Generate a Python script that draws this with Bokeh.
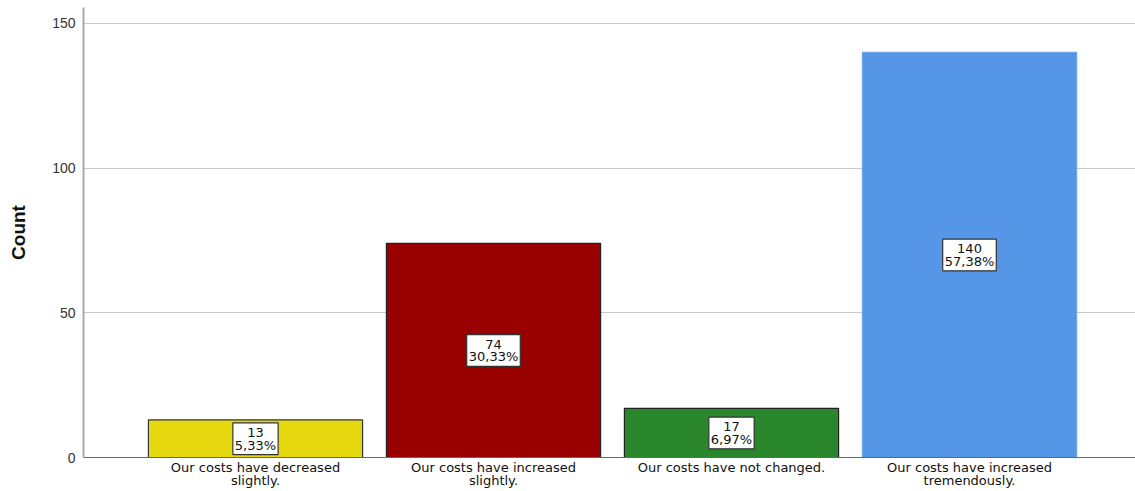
from bokeh.plotting import figure
from bokeh.models import ColumnDataSource, Range1d, FixedTicker
from bokeh.core.properties import value
from bokeh.embed import file_html
from bokeh.resources import INLINE

categories = ["Our costs have decreased\nslightly.", "Our costs have increased\nslightly.",
              "Our costs have not changed.", "Our costs have increased\ntremendously."]
counts = [13, 74, 17, 140]
percents = ["5,33%", "30,33%", "6,97%", "57,38%"]
colors = ["#E5D80F", "#990000", "#2A862A", "#5597E6"]
outlines = ["#333333", "#222222", "#222222", "#6FA6EA"]
y_ticks = [0, 50, 100, 150]

xs = list(range(len(categories)))
src = ColumnDataSource(dict(
    x=xs, top=counts, color=colors, line=outlines,
    mid=[c / 2 for c in counts],
    label=[f"{c}\n{p}" for c, p in zip(counts, percents)],
))

p = figure(width=1135, height=491, output_backend="svg", toolbar_location=None,
           x_range=Range1d(-0.7227, 3.6975), y_range=Range1d(0, 155.5),
           min_border_left=83, min_border_right=0, min_border_top=7, min_border_bottom=33)
p.outline_line_color = None
p.background_fill_color = "white"

p.vbar(x="x", top="top", width=0.9, bottom=0, fill_color="color", line_color="line",
       line_width=1.2, source=src)

p.text(x="x", y="mid", text="label", source=src, text_align="center", text_baseline="middle",
       text_font=value("DejaVu Sans"), text_font_size="13px", text_color="#111111",
       text_line_height=0.85,
       background_fill_color="white", border_line_color="#333333", border_line_width=1.2,
       padding=2)

p.xgrid.visible = False
p.ygrid.grid_line_color = "#c8c8c8"
p.ygrid.grid_line_width = 1

p.yaxis.ticker = FixedTicker(ticks=y_ticks)
p.yaxis.axis_label = "Count"
p.yaxis.axis_label_text_font = "Liberation Sans"
p.yaxis.axis_label_text_font_style = "bold"
p.yaxis.axis_label_text_font_size = "19px"
p.yaxis.axis_label_text_color = "#111111"
p.yaxis.axis_label_standoff = 20
p.yaxis.major_label_text_font = "Liberation Sans"
p.yaxis.major_label_text_font_size = "14px"
p.yaxis.major_label_text_color = "#333333"
p.yaxis.major_label_standoff = 8
p.yaxis.axis_line_color = "#aaaaaa"
p.yaxis.axis_line_width = 2
p.yaxis.major_tick_line_color = None
p.yaxis.major_tick_out = 0
p.yaxis.major_tick_in = 0
p.yaxis.minor_tick_line_color = None

p.xaxis.ticker = FixedTicker(ticks=xs)
p.xaxis.major_label_overrides = {i: c for i, c in enumerate(categories)}
p.xaxis.major_label_text_font = "DejaVu Sans"
p.xaxis.major_label_text_font_size = "13px"
p.xaxis.major_label_text_line_height = 0.9
p.xaxis.major_label_text_color = "#111111"
p.xaxis.axis_line_color = "#666666"
p.xaxis.axis_line_width = 1
p.xaxis.major_tick_line_color = None
p.xaxis.major_tick_out = 0
p.xaxis.major_tick_in = 0
p.xaxis.minor_tick_line_color = None
p.xaxis.major_label_standoff = 2

open("out.html", "w").write(file_html(p, INLINE))
